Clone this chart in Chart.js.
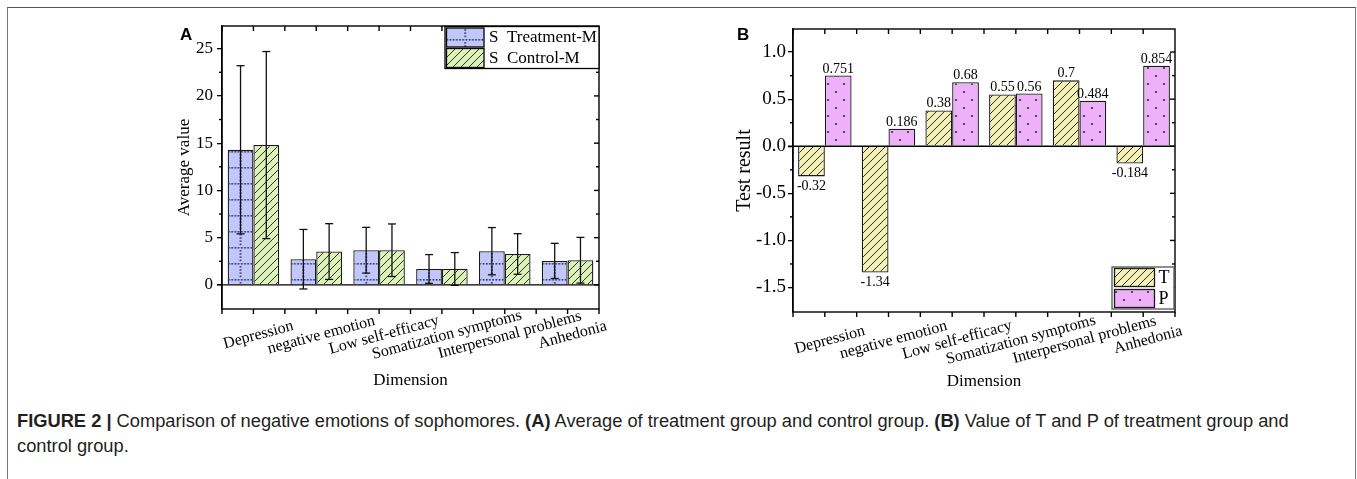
<!DOCTYPE html>
<html>
<head>
<meta charset="utf-8">
<script src="https://cdn.jsdelivr.net/npm/chart.js@4.4.0/dist/chart.umd.min.js"></script>
<style>
html,body{margin:0;padding:0;background:#fff;width:1357px;height:479px;overflow:hidden;}
#frame{position:absolute;left:7px;top:7px;width:1347px;height:520px;border-top:1.5px solid #555;border-left:1px solid #777;border-right:1px solid #777;}
#wa{position:absolute;left:0;top:0;width:680px;height:400px;}
#wb{position:absolute;left:680px;top:0;width:677px;height:400px;}
#cap{position:absolute;left:17px;top:408px;font-size:18.3px;font-family:'Liberation Sans',Arial,sans-serif;line-height:25px;color:#231f20;white-space:nowrap;}
</style>
</head>
<body>
<div id="frame"></div>
<div id="wa"><canvas id="ca"></canvas></div>
<div id="wb"><canvas id="cb"></canvas></div>
<div id="cap"><span id="l1"><b>FIGURE 2 |</b> Comparison of negative emotions of sophomores. <b>(A)</b> Average of treatment group and control group. <b>(B)</b> Value of T and P of treatment group and</span><br>control group.</div>
<script>
// ---------------- data ----------------
const categories = ['Depression','negative emotion','Low self-efficacy','Somatization symptoms','Interpersonal problems','Anhedonia'];
const treatmentMean = [14.3, 2.72, 3.67, 1.69, 3.57, 2.54];
const treatmentSD   = [8.9, 3.15, 2.42, 1.52, 2.5, 1.86];
const controlMean   = [14.8, 3.53, 3.67, 1.69, 3.27, 2.61];
const controlSD     = [9.9, 2.95, 2.78, 1.73, 2.15, 2.42];
const tValues = [-0.32, -1.34, 0.38, 0.55, 0.7, -0.184];
const pValues = [0.751, 0.186, 0.68, 0.56, 0.484, 0.854];
const ticksA = [0, 5, 10, 15, 20, 25];
const tickLabelsA = ['0', '5', '10', '15', '20', '25'];
const ticksB = [-1.5, -1.0, -0.5, 0, 0.5, 1.0];
const tickLabelsB = ['-1.5', '-1.0', '-0.5', '0.0', '0.5', '1.0'];
const legendA = ['S  Treatment-M', 'S  Control-M'];
const legendB = ['T', 'P'];

const SERIF = "'Liberation Serif','Times New Roman',serif";
const SANS = "'Liberation Sans',Arial,sans-serif";

// ---------------- patterns ----------------
const pctx = document.createElement('canvas').getContext('2d');
function tile(w, h, bg, fn) {
  const c = document.createElement('canvas'); c.width = w; c.height = h;
  const g = c.getContext('2d'); g.fillStyle = bg; g.fillRect(0, 0, w, h); fn(g, w, h); return c;
}
const blueTile = tile(32, 16, '#c2c7f9', (g) => {
  g.fillStyle = '#2c2c6c';
  for (let i = 0; i < 10; i++) g.fillRect(i * 3.2 + 0.4, 7, 1.6, 1.6);
  for (let j = 0; j < 5; j++) { const y = j * 3.2 + 0.4; if (Math.abs(y - 7) > 1.5) g.fillRect(15.2, y, 1.6, 1.6); }
});
function hatchTile(bg) {
  return tile(8, 8, bg, (g) => {
    g.strokeStyle = '#1a1a1a'; g.lineWidth = 0.9; g.beginPath();
    g.moveTo(-1, 9); g.lineTo(9, -1); g.moveTo(-1, 1); g.lineTo(1, -1); g.moveTo(7, 9); g.lineTo(9, 7); g.stroke();
  });
}
const greenTile = hatchTile('#dcf2b9');
const yellowTile = hatchTile('#f4f1b6');
const pinkTile = tile(16, 16, '#eeb1f9', (g) => {
  g.fillStyle = '#333';
  g.beginPath(); g.arc(4, 4, 1.1, 0, Math.PI * 2); g.arc(12, 12, 1.1, 0, Math.PI * 2); g.fill();
});
function gridPattern(cx) {
  const p = pctx.createPattern(blueTile, 'repeat');
  p.setTransform(new DOMMatrix([1, 0, 0, 1, cx - 16, 0]));
  return p;
}
const greenPat = pctx.createPattern(greenTile, 'repeat');
const yellowPat = pctx.createPattern(yellowTile, 'repeat');
const pinkPat = pctx.createPattern(pinkTile, 'repeat');

// ---------------- helpers ----------------
function line(ctx, x1, y1, x2, y2) { ctx.beginPath(); ctx.moveTo(x1, y1); ctx.lineTo(x2, y2); ctx.stroke(); }

function drawFrame(chart, cfg) {
  const ctx = chart.ctx, a = chart.chartArea, xs = chart.scales.x, ys = chart.scales.y;
  ctx.save();
  ctx.strokeStyle = '#000'; ctx.lineWidth = 1.4;
  ctx.strokeRect(a.left, a.top, a.right - a.left, a.bottom - a.top);
  const y0 = ys.getPixelForValue(0);
  line(ctx, a.left - 5, y0, a.right, y0);
  const step = cfg.majors[1] - cfg.majors[0];
  cfg.majors.forEach(v => { const y = ys.getPixelForValue(v); line(ctx, a.right - 5, y, a.right, y); });
  for (let v = cfg.majors[0] - step / 2; v < ys.max; v += step) {
    if (v <= ys.min + 0.02 * step || v >= ys.max - 0.02 * step) continue;
    const y = ys.getPixelForValue(v);
    line(ctx, a.left - 3, y, a.left, y);
    line(ctx, a.right - 3, y, a.right, y);
  }
  const n = categories.length;
  const cw = xs.getPixelForValue(1) - xs.getPixelForValue(0);
  for (let i = 0; i < n; i++) {
    const c = xs.getPixelForValue(i);
    [c - cw / 2, c].forEach(p => { line(ctx, p, a.bottom, p, a.bottom + 5); line(ctx, p, a.top, p, a.top + 5); });
  }
  line(ctx, a.right, a.bottom, a.right, a.bottom + 5);
  ctx.fillStyle = '#000'; ctx.font = '16px ' + SERIF; ctx.textAlign = 'center'; ctx.textBaseline = 'middle';
  categories.forEach((c, i) => {
    ctx.save();
    ctx.translate(xs.getPixelForValue(i) + 5, a.bottom + cfg.labelDy);
    ctx.rotate(-15 * Math.PI / 180);
    ctx.fillText(c, 0, 0);
    ctx.restore();
  });
  ctx.font = 'bold 17px ' + SANS; ctx.textAlign = 'left'; ctx.textBaseline = 'alphabetic';
  ctx.fillText(cfg.letter, cfg.letterX, 40);
  ctx.restore();
}

// ---------------- chart A ----------------
const errorBarsA = {
  id: 'errorBarsA',
  afterDatasetsDraw(chart) {
    const ctx = chart.ctx, ys = chart.scales.y;
    const sets = [[treatmentMean, treatmentSD], [controlMean, controlSD]];
    ctx.save(); ctx.strokeStyle = '#111'; ctx.lineWidth = 1.3;
    sets.forEach((s, di) => {
      const meta = chart.getDatasetMeta(di);
      meta.data.forEach((bar, j) => {
        const yt = ys.getPixelForValue(s[0][j] + s[1][j]);
        const yb = ys.getPixelForValue(s[0][j] - s[1][j]);
        line(ctx, bar.x, yt, bar.x, yb);
        line(ctx, bar.x - 4, yt, bar.x + 4, yt);
        line(ctx, bar.x - 4, yb, bar.x + 4, yb);
      });
    });
    ctx.restore();
  },
  afterDraw(chart) {
    drawFrame(chart, { majors: ticksA, labelDy: 26, letter: 'A', letterX: 180 });
    const ctx = chart.ctx, a = chart.chartArea;
    const bx = a.right - 154, by = a.top + 0.5, bw = 154, bh = 42;
    ctx.save();
    ctx.fillStyle = '#fff'; ctx.fillRect(bx, by, bw, bh);
    ctx.strokeStyle = '#000'; ctx.lineWidth = 1.3; ctx.strokeRect(bx, by, bw, bh);
    const sx = bx + 1.5, sw = 37.5;
    ctx.fillStyle = gridPattern(sx + sw / 2); ctx.fillRect(sx, by + 1.5, sw, 19); ctx.strokeRect(sx, by + 1.5, sw, 19);
    ctx.fillStyle = greenPat; ctx.fillRect(sx, by + 22, sw, 19); ctx.strokeRect(sx, by + 22, sw, 19);
    ctx.fillStyle = '#000'; ctx.font = '17px ' + SERIF; ctx.textBaseline = 'middle'; ctx.textAlign = 'left';
    ctx.fillText(legendA[0], bx + 44, by + 11.5);
    ctx.fillText(legendA[1], bx + 44, by + 32);
    ctx.restore();
  }
};

new Chart(document.getElementById('ca'), {
  type: 'bar',
  data: {
    labels: categories,
    datasets: [
      { label: legendA[0], data: treatmentMean,
        backgroundColor: (ctx) => {
          if (ctx.type !== 'data') return gridPattern(0);
          const xs = ctx.chart.scales.x;
          const step = xs.getPixelForValue(1) - xs.getPixelForValue(0);
          const bw = step * 0.82 / 2;
          return gridPattern(xs.getPixelForValue(ctx.dataIndex) - bw / 2);
        },
        borderColor: '#1a1a1a', borderWidth: 1.3, categoryPercentage: 0.82, barPercentage: 1.0 },
      { label: legendA[1], data: controlMean, backgroundColor: greenPat,
        borderColor: '#1a1a1a', borderWidth: 1.3, categoryPercentage: 0.82, barPercentage: 1.0 }
    ]
  },
  options: {
    responsive: true, maintainAspectRatio: false, animation: false, devicePixelRatio: 1,
    layout: { padding: { left: 170, top: 26, right: 81, bottom: 9 } },
    plugins: { legend: { display: false }, tooltip: { enabled: false } },
    scales: {
      x: {
        type: 'category', offset: true,
        ticks: { display: false }, grid: { display: false }, border: { display: false },
        title: { display: true, text: 'Dimension', color: '#000', font: { family: SERIF, size: 17 }, padding: 0 },
        afterFit: (s) => { s.height = 82; }
      },
      y: {
        min: -2.55, max: 27.4,
        afterBuildTicks: (s) => { s.ticks = ticksA.map(v => ({ value: v })); },
        afterFit: (s) => { s.width = 52; },
        ticks: { callback: (v, i) => tickLabelsA[i], color: '#000', font: { family: SERIF, size: 17 }, padding: 4 },
        grid: { drawOnChartArea: false, tickLength: 5, color: '#000', lineWidth: 1.3 },
        border: { color: '#000', width: 1.4 },
        title: { display: true, text: 'Average value', color: '#000', font: { family: SERIF, size: 17 }, padding: { top: 4.8, bottom: 0 } }
      }
    }
  },
  plugins: [errorBarsA]
});

// ---------------- chart B ----------------
const labelsB = {
  id: 'labelsB',
  afterDatasetsDraw(chart) {
    const ctx = chart.ctx;
    ctx.save(); ctx.fillStyle = '#000'; ctx.font = '14px ' + SERIF; ctx.textAlign = 'center';
    [tValues, pValues].forEach((vals, di) => {
      chart.getDatasetMeta(di).data.forEach((bar, j) => {
        const v = vals[j];
        if (v >= 0) { ctx.textBaseline = 'alphabetic'; ctx.fillText(String(v), bar.x, bar.y - 3); }
        else { ctx.textBaseline = 'top'; ctx.fillText(String(v), bar.x, bar.y + 3); }
      });
    });
    ctx.restore();
  },
  afterDraw(chart) {
    drawFrame(chart, { majors: ticksB, labelDy: 28, letter: 'B', letterX: 57 });
    const ctx = chart.ctx, a = chart.chartArea;
    const bw = 62, bh = 42, bx = a.right - 1 - bw, by = a.bottom - 3 - bh;
    ctx.save();
    ctx.fillStyle = '#fff'; ctx.fillRect(bx, by, bw, bh);
    ctx.strokeStyle = '#555'; ctx.lineWidth = 1.3; ctx.strokeRect(bx, by, bw, bh);
    ctx.strokeStyle = '#1a1a1a';
    const sx = bx + 2.5, sw = 40;
    ctx.fillStyle = yellowPat; ctx.fillRect(sx, by + 1.5, sw, 18); ctx.strokeRect(sx, by + 1.5, sw, 18);
    ctx.fillStyle = pinkPat; ctx.fillRect(sx, by + 22.5, sw, 18); ctx.strokeRect(sx, by + 22.5, sw, 18);
    ctx.fillStyle = '#000'; ctx.font = '18px ' + SERIF; ctx.textBaseline = 'middle'; ctx.textAlign = 'left';
    ctx.fillText(legendB[0], sx + sw + 4, by + 11);
    ctx.fillText(legendB[1], sx + sw + 4, by + 32);
    ctx.restore();
  }
};

new Chart(document.getElementById('cb'), {
  type: 'bar',
  data: {
    labels: categories,
    datasets: [
      { label: legendB[0], data: tValues, backgroundColor: yellowPat,
        borderColor: '#1a1a1a', borderWidth: 1.3, categoryPercentage: 0.84, barPercentage: 1.0 },
      { label: legendB[1], data: pValues, backgroundColor: pinkPat,
        borderColor: '#1a1a1a', borderWidth: 1.3, categoryPercentage: 0.84, barPercentage: 1.0 }
    ]
  },
  options: {
    responsive: true, maintainAspectRatio: false, animation: false, devicePixelRatio: 1,
    layout: { padding: { left: 50, top: 29, right: 182, bottom: 8 } },
    plugins: { legend: { display: false }, tooltip: { enabled: false } },
    scales: {
      x: {
        type: 'category', offset: true,
        ticks: { display: false }, grid: { display: false }, border: { display: false },
        title: { display: true, text: 'Dimension', color: '#000', font: { family: SERIF, size: 17 }, padding: 0 },
        afterFit: (s) => { s.height = 80; }
      },
      y: {
        min: -1.76, max: 1.245,
        afterBuildTicks: (s) => { s.ticks = ticksB.map(v => ({ value: v })); },
        afterFit: (s) => { s.width = 63; },
        ticks: { callback: (v, i) => tickLabelsB[i], color: '#000', font: { family: SERIF, size: 19 }, padding: 2 },
        grid: { drawOnChartArea: false, tickLength: 5, color: '#000', lineWidth: 1.3 },
        border: { color: '#000', width: 1.4 },
        title: { display: true, text: 'Test result', color: '#000', font: { family: SERIF, size: 20 }, padding: { top: 3, bottom: 0 } }
      }
    }
  },
  plugins: [labelsB]
});
</script>
</body>
</html>
